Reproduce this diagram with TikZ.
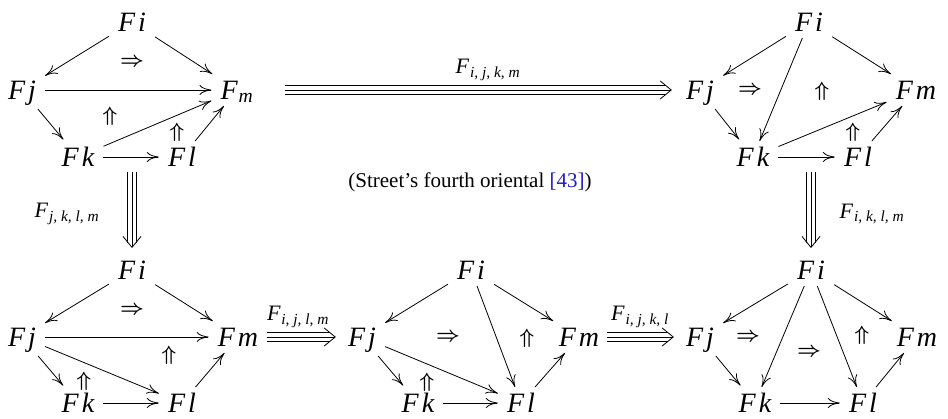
\documentclass[tikz,border=0pt]{standalone}
\usepackage{fontspec}
\setmainfont{Liberation Serif}
\usetikzlibrary{arrows.meta}
\definecolor{linkblue}{RGB}{30,30,200}
\newcommand\objf{\fontsize{28}{30}\selectfont\itshape}
\newcommand\labf{\fontsize{22}{24}\selectfont\itshape}
\newcommand\cellf{\fontsize{21}{24}\selectfont\boldmath}
\newcommand\Fo[1]{F\kern3pt #1}
\newcommand\Flab[1]{F\textsubscript{\kern1pt #1}}
% triple arrow: from, to, shorten start, shorten end
\newcommand\triar[4]{%
  \draw[line width=9.6pt, shorten <=#3, shorten >=#4+5.5pt] (#1) -- (#2);
  \draw[white, line width=8pt, shorten <=#3-1pt, shorten >=#4+3.5pt] (#1) -- (#2);
  \draw[line width=0.8pt, shorten <=#3, shorten >=#4,
        -{Straight Barb[length=11pt,width=18pt]}] (#1) -- (#2);}
\begin{document}
\begin{tikzpicture}[x=1pt,y=-1pt,
  obj/.style={font=\objf, text height=18.5pt, text depth=0pt, inner xsep=9pt, inner ysep=6.5pt},
  cell/.style={font=\cellf, inner sep=0pt},
  lab/.style={font=\labf, inner sep=0pt},
  ar/.style={line width=0.8pt, -{Computer Modern Rightarrow[length=12pt,width=10pt]}}]
\useasboundingbox (0,0) rectangle (948,419);

% ---------- D1 (top left)
\node[obj] (d1i) at (132,22) {\Fo{i}};
\node[obj] (d1j) at (22,90) {\Fo{j}};
\node[obj] (d1m) at (237,90) {F\textsubscript{\kern1pt m}};
\node[obj] (d1k) at (78,157) {\Fo{k}};
\node[obj] (d1l) at (182,157) {\Fo{l}};
\node[cell] (d1c1) at (132,62) {$\Rightarrow$};
\node[cell] (d1c2) at (110,116) {$\Uparrow$};
\node[cell] (d1c3) at (177,132) {$\Uparrow$};
\draw[ar] (d1i) -- (d1j);
\draw[ar] (d1i) -- (d1m);
\draw[ar] (d1j) -- (d1m);
\draw[ar, shorten <=4pt, shorten >=2pt] (d1j) -- (d1k);
\draw[ar] (d1k) -- (d1m);
\draw[ar] (d1k) -- (d1l);
\draw[ar] (d1l) -- (d1m);

% ---------- D2 (top right)
\node[obj] (d2i) at (809,22) {\Fo{i}};
\node[obj] (d2j) at (700,90) {\Fo{j}};
\node[obj] (d2m) at (916,90) {\Fo{m}};
\node[obj] (d2k) at (753,157) {\Fo{k}};
\node[obj] (d2l) at (858,157) {\Fo{l}};
\node[cell] (d2c1) at (750,90) {$\Rightarrow$};
\node[cell] (d2c2) at (822,91) {$\Uparrow$};
\node[cell] (d2c3) at (853,132) {$\Uparrow$};
\draw[ar] (d2i) -- (d2j);
\draw[ar] (d2i) -- (d2k);
\draw[ar] (d2i) -- (d2m);
\draw[ar, shorten <=4pt, shorten >=2pt] (d2j) -- (d2k);
\draw[ar] (d2k) -- (d2l);
\draw[ar] (d2k) -- (d2m);
\draw[ar] (d2l) -- (d2m);

% ---------- D3 (bottom left)
\node[obj] (d3i) at (132,270) {\Fo{i}};
\node[obj] (d3j) at (22,337) {\Fo{j}};
\node[obj] (d3m) at (238,337) {\Fo{m}};
\node[obj] (d3k) at (78,403) {\Fo{k}};
\node[obj] (d3l) at (182,403) {\Fo{l}};
\node[cell] (d3c1) at (132,310) {$\Rightarrow$};
\node[cell] (d3c2) at (169,355) {$\Uparrow$};
\node[cell] (d3c3) at (84,381) {$\Uparrow$};
\draw[ar] (d3i) -- (d3j);
\draw[ar] (d3i) -- (d3m);
\draw[ar] (d3j) -- (d3m);
\draw[ar, shorten <=4pt, shorten >=2pt] (d3j) -- (d3k);
\draw[ar] (d3j) -- (d3l);
\draw[ar] (d3k) -- (d3l);
\draw[ar] (d3l) -- (d3m);

% ---------- D4 (bottom middle)
\node[obj] (d4i) at (471,270) {\Fo{i}};
\node[obj] (d4j) at (362,337) {\Fo{j}};
\node[obj] (d4m) at (579,337) {\Fo{m}};
\node[obj] (d4k) at (418,403) {\Fo{k}};
\node[obj] (d4l) at (521,403) {\Fo{l}};
\node[cell] (d4c1) at (448,337) {$\Rightarrow$};
\node[cell] (d4c2) at (527,338) {$\Uparrow$};
\node[cell] (d4c3) at (427,382) {$\Uparrow$};
\draw[ar] (d4i) -- (d4j);
\draw[ar] (d4i) -- (d4l);
\draw[ar] (d4i) -- (d4m);
\draw[ar, shorten <=4pt, shorten >=2pt] (d4j) -- (d4k);
\draw[ar] (d4j) -- (d4l);
\draw[ar] (d4k) -- (d4l);
\draw[ar] (d4l) -- (d4m);

% ---------- D5 (bottom right)
\node[obj] (d5i) at (811,270) {\Fo{i}};
\node[obj] (d5j) at (700,337) {\Fo{j}};
\node[obj] (d5m) at (917,337) {\Fo{m}};
\node[obj] (d5k) at (755,403) {\Fo{k}};
\node[obj] (d5l) at (863,403) {\Fo{l}};
\node[cell] (d5c1) at (748,337) {$\Rightarrow$};
\node[cell] (d5c2) at (809,352) {$\Rightarrow$};
\node[cell] (d5c3) at (862,335) {$\Uparrow$};
\draw[ar] (d5i) -- (d5j);
\draw[ar] (d5i) -- (d5k);
\draw[ar] (d5i) -- (d5l);
\draw[ar] (d5i) -- (d5m);
\draw[ar, shorten <=4pt, shorten >=2pt] (d5j) -- (d5k);
\draw[ar] (d5k) -- (d5l);
\draw[ar] (d5l) -- (d5m);

% ---------- triple arrows between diagrams
\coordinate (t1) at (132,172);
\coordinate (t2) at (811,172);
\triar{d1m.east}{d2j.west}{22pt}{5pt}
\triar{t1}{d3i.north}{0pt}{6pt}
\triar{t2}{d5i.north}{0pt}{6pt}
\triar{d3m.east}{d4j.west}{0pt}{3pt}
\triar{d4m.east}{d5j.west}{-1pt}{3pt}

\node[lab] (l1) at (488,70) {\Flab{i, j, k, m}};
\node[lab] (l2) at (67,214) {\Flab{j, k, l, m}};
\node[lab] (l3) at (872,214) {\Flab{i, k, l, m}};
\node[lab] (l4) at (298,317) {\Flab{i, j, l, m}};
\node[lab] (l5) at (640,317) {\Flab{i, j, k, l}};

\node[inner sep=0pt, font=\fontsize{21}{24}\selectfont] (cap) at (470,182)
  {(Street’s fourth oriental \textcolor{linkblue}{[43]})};
\end{tikzpicture}
\end{document}
